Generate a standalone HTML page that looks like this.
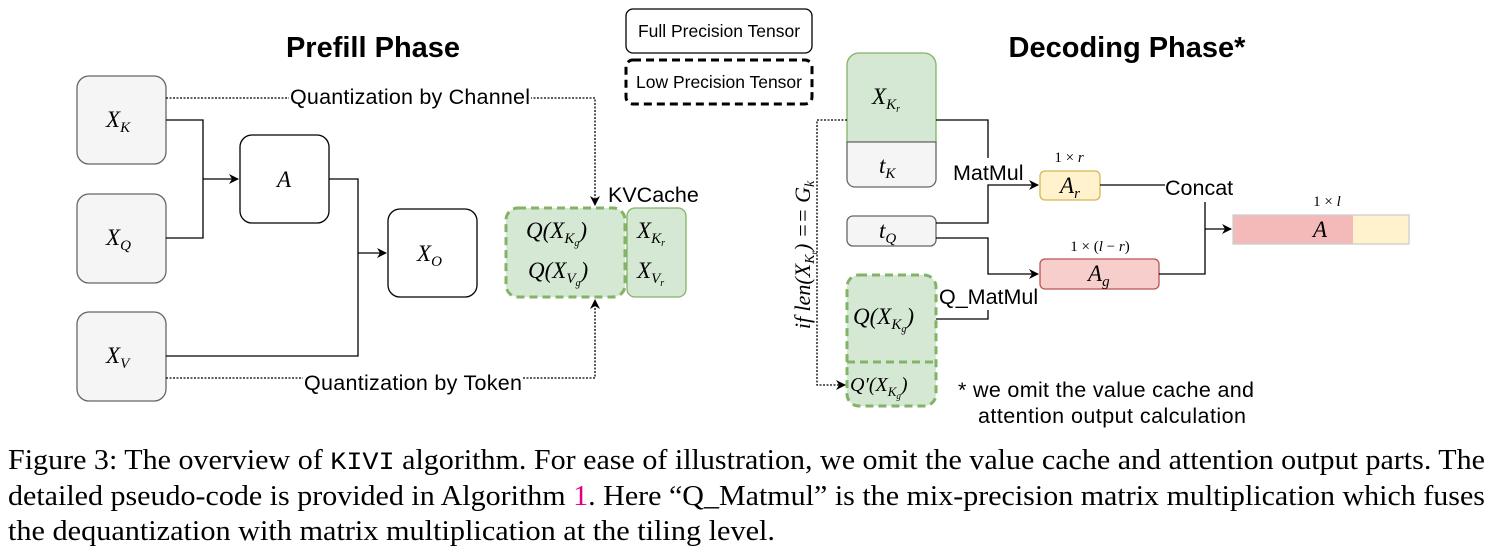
<!DOCTYPE html>
<html><head><meta charset="utf-8"><style>
body{margin:0;background:#fff;width:1493px;height:556px;overflow:hidden;position:relative}
svg{position:absolute;left:0;top:0}
</style></head><body>
<svg width="1493" height="556" viewBox="0 0 1493 556">
<defs><marker id="ar" markerWidth="10" markerHeight="10" refX="9" refY="5" orient="auto" markerUnits="userSpaceOnUse"><path d="M0,0 L10,5 L0,10 L3,5z" fill="#000"/></marker></defs>
<g font-family="Liberation Sans,sans-serif">
<text x="373" y="57" font-size="29" font-weight="bold" text-anchor="middle">Prefill Phase</text>
<text x="1127" y="57" font-size="29" font-weight="bold" text-anchor="middle">Decoding Phase*</text>
<rect x="626" y="9" width="186" height="44" rx="7" fill="#fff" stroke="#000" stroke-width="1.3"/>
<text x="719" y="37" font-size="17.5" text-anchor="middle">Full Precision Tensor</text>
<rect x="626" y="60" width="186" height="44" rx="7" fill="#fff" stroke="#000" stroke-width="3" stroke-dasharray="8,5"/>
<text x="719" y="88" font-size="17.5" text-anchor="middle">Low Precision Tensor</text>
</g>
<g fill="#f5f5f5" stroke="#666" stroke-width="1.3">
<rect x="77" y="76" width="89" height="88" rx="12"/>
<rect x="77" y="194" width="89" height="89" rx="12"/>
<rect x="77" y="312" width="89" height="89" rx="12"/>
</g>
<g fill="#fff" stroke="#000" stroke-width="1.3">
<rect x="240" y="135" width="89" height="88" rx="12"/>
<rect x="388" y="209" width="89" height="88" rx="12"/>
</g>
<rect x="506" y="208" width="119" height="89" rx="12" fill="#d5e8d4" stroke="#82b366" stroke-width="3" stroke-dasharray="8,5"/>
<rect x="627" y="208" width="59" height="89" rx="8" fill="#d5e8d4" stroke="#82b366" stroke-width="1.3"/>
<g fill="none" stroke="#000" stroke-width="1.3">
<path d="M166,120 H203 V238 H166"/><path d="M203,179 H238" marker-end="url(#ar)"/>
<path d="M329,179 H358 V356 H166"/><path d="M358,253 H386" marker-end="url(#ar)"/>
<path d="M166,98 H595 V205" stroke-dasharray="2,1.5" marker-end="url(#ar)"/>
<path d="M166,378 H595 V300" stroke-dasharray="2,1.5" marker-end="url(#ar)"/>
</g>
<rect x="289" y="85" width="242" height="22" fill="#fff"/>
<rect x="303" y="367" width="220" height="22" fill="#fff"/>
<g font-family="Liberation Sans,sans-serif" font-size="21.5">
<text x="410" y="104" text-anchor="middle" textLength="240">Quantization by Channel</text>
<text x="413" y="390" text-anchor="middle" textLength="218">Quantization by Token</text>
<text x="608" y="202">KVCache</text>
</g>
<g font-family="Liberation Serif,serif" font-style="italic" font-size="23">
<text x="106" y="127">X<tspan font-size="15" dy="5">K</tspan></text>
<text x="106" y="245">X<tspan font-size="15" dy="5">Q</tspan></text>
<text x="106" y="363">X<tspan font-size="15" dy="5">V</tspan></text>
<text x="277" y="187">A</text>
<text x="417" y="261">X<tspan font-size="15" dy="5">O</tspan></text>
<text x="526" y="238">Q(X<tspan font-size="15" dy="5">K<tspan font-size="10" dy="3">g</tspan></tspan><tspan dy="-8">)</tspan></text>
<text x="528" y="278">Q(X<tspan font-size="15" dy="5">V<tspan font-size="10" dy="3">g</tspan></tspan><tspan dy="-8">)</tspan></text>
<text x="637" y="238">X<tspan font-size="15" dy="5">K<tspan font-size="10" dy="3">r</tspan></tspan></text>
<text x="637" y="278">X<tspan font-size="15" dy="5">V<tspan font-size="10" dy="3">r</tspan></tspan></text>
</g>
<path d="M847,142 V65 a12,12 0 0 1 12,-12 H924 a12,12 0 0 1 12,12 V142z" fill="#d5e8d4" stroke="#82b366" stroke-width="1.3"/>
<path d="M847,142 H936 V179 a8,8 0 0 1 -8,8 H855 a8,8 0 0 1 -8,-8z" fill="#f5f5f5" stroke="#666" stroke-width="1.3"/>
<rect x="847" y="216" width="89" height="30" rx="6" fill="#f5f5f5" stroke="#666" stroke-width="1.3"/>
<rect x="847" y="275" width="89" height="131" rx="12" fill="#d5e8d4" stroke="#82b366" stroke-width="3" stroke-dasharray="8,5"/>
<path d="M847,362 H936" stroke="#82b366" stroke-width="3" stroke-dasharray="8,5"/>
<rect x="1040" y="171" width="60" height="29" rx="5" fill="#fff2cc" stroke="#d6b656" stroke-width="1.3"/>
<rect x="1040" y="259" width="119" height="30" rx="5" fill="#f8cecc" stroke="#b85450" stroke-width="1.3"/>
<rect x="1233" y="215" width="120" height="29" fill="#f4b9b9"/>
<rect x="1353" y="215" width="56" height="29" fill="#fff2cc"/>
<rect x="1233" y="215" width="176" height="29" fill="none" stroke="#ccc" stroke-width="1.3"/>
<g fill="none" stroke="#000" stroke-width="1.3">
<path d="M936,120 H988 V158"/>
<path d="M936,223 H988 V185 H1038" marker-end="url(#ar)"/>
<path d="M936,238 H988 V274 H1038" marker-end="url(#ar)"/>
<path d="M936,319 H988 V310"/>
<path d="M1100,185 H1165"/>
<path d="M1205,202 V274 H1159"/><path d="M1205,229 H1231" marker-end="url(#ar)"/>
<path d="M847,120 H817 V385 H845" stroke-dasharray="2,1.5" marker-end="url(#ar)"/>
</g>
<g font-family="Liberation Sans,sans-serif" font-size="21.5">
<text x="953" y="180">MatMul</text>
<text x="939" y="304">Q_MatMul</text>
<text x="1165" y="195">Concat</text>
<text x="958" y="397" textLength="296">* we omit the value cache and</text>
<text x="978" y="423" textLength="268">attention output calculation</text>
</g>
<g font-family="Liberation Serif,serif" font-style="italic" font-size="23">
<text x="872" y="104">X<tspan font-size="15" dy="5">K<tspan font-size="10" dy="3">r</tspan></tspan></text>
<text x="879" y="173">t<tspan font-size="15" dy="5">K</tspan></text>
<text x="879" y="238">t<tspan font-size="15" dy="5">Q</tspan></text>
<text x="853" y="324">Q(X<tspan font-size="15" dy="5">K<tspan font-size="10" dy="3">g</tspan></tspan><tspan dy="-8">)</tspan></text>
<text x="850" y="391" font-size="20">Q′(X<tspan font-size="13" dy="5">K<tspan font-size="9" dy="3">g</tspan></tspan><tspan dy="-8">)</tspan></text>
<text x="1060" y="193">A<tspan font-size="15" dy="5">r</tspan></text>
<text x="1088" y="281">A<tspan font-size="15" dy="5">g</tspan></text>
<text x="1313" y="237">A</text>
<text x="1069" y="162" font-size="15" text-anchor="middle" font-style="normal">1 × <tspan font-style="italic">r</tspan></text>
<text x="1100" y="251" font-size="15" text-anchor="middle" font-style="normal">1 × (<tspan font-style="italic">l</tspan> − <tspan font-style="italic">r</tspan>)</text>
<text x="1327" y="206" font-size="15" text-anchor="middle" font-style="normal">1 × <tspan font-style="italic">l</tspan></text>
<text transform="translate(810,255) rotate(-90)" font-size="22" text-anchor="middle">if  len(X<tspan font-size="14" dy="4">K<tspan font-size="9" dy="3">r</tspan></tspan><tspan dy="-7">) == G</tspan><tspan font-size="14" dy="4">k</tspan></text>
</g>
<g font-family="Liberation Serif,serif" font-size="28" fill="#000">
<text x="8" y="469" textLength="1477" lengthAdjust="spacingAndGlyphs">Figure 3: The overview of <tspan font-family="Liberation Mono,monospace" font-size="25">KIVI</tspan> algorithm. For ease of illustration, we omit the value cache and attention output parts. The</text>
<text x="8" y="505" textLength="1477" lengthAdjust="spacingAndGlyphs">detailed pseudo-code is provided in Algorithm <tspan fill="#e4007c">1</tspan>. Here “Q_Matmul” is the mix-precision matrix multiplication which fuses</text>
<text x="8" y="540" textLength="767" lengthAdjust="spacingAndGlyphs">the dequantization with matrix multiplication at the tiling level.</text>
</g>
</svg>
</body></html>
